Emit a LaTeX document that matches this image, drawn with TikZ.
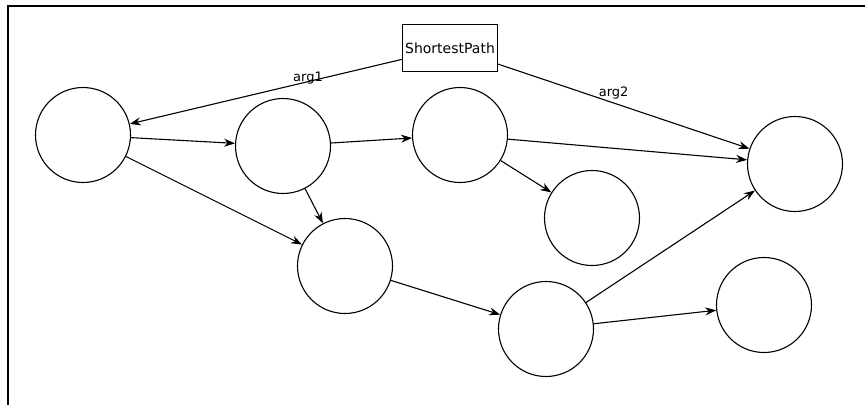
\documentclass[tikz,border=0pt]{standalone}
\usepackage{fontspec}
\setmainfont{DejaVu Sans}
\usepackage{tikz}
\usetikzlibrary{arrows.meta}
\tikzset{
	->, % makes the edges directed
	>={Stealth[length=11pt,width=8pt]}, % arrow heads
	every node/.style={font=\fontsize{13}{15}\selectfont},
	vertex/.style={circle, draw, line width=1.1pt, minimum size=95pt, inner sep=0pt}, % the plain circles
	algo/.style={rectangle, draw, line width=1.1pt, minimum width=95pt, minimum height=47pt, inner sep=1pt, font=\fontsize{14}{16}\selectfont}, % the algorithm box
}
\begin{document}
\begin{tikzpicture}[x=1pt, y=-1pt, line width=1.1pt]
			\useasboundingbox (0,0) rectangle (865,405);
			% frame
			\draw[-, line width=1.6pt] (8,405) -- (8,6) -- (865,6);
			
			% Define nodes
			\node[algo] (sp) at (450,48) {ShortestPath};
			\node[vertex] (v1) at (83,135) {};
			\node[vertex] (v2) at (283,146) {};
			\node[vertex] (v3) at (460,135) {};
			\node[vertex] (v4) at (592,218) {};
			\node[vertex] (v5) at (795,164) {};
			\node[vertex] (v6) at (345,266) {};
			\node[vertex] (v7) at (546,329) {};
			\node[vertex] (v8) at (764,305) {};
			
			% Edges
			\path[->]
			(sp) edge node[pos=0.345, anchor=base, inner sep=0pt] {arg1} (v1)
			(sp) edge node[pos=0.46, anchor=base, inner sep=0pt, yshift=7pt] {arg2} (v5)
			(v1) edge (v2)
			(v1) edge (v6)
			(v2) edge (v3)
			(v2) edge (v6)
			(v3) edge (v5)
			(v3) edge (v4)
			(v6) edge (v7)
			(v7) edge (v5)
			(v7) edge (v8);
		\end{tikzpicture}
\end{document}
